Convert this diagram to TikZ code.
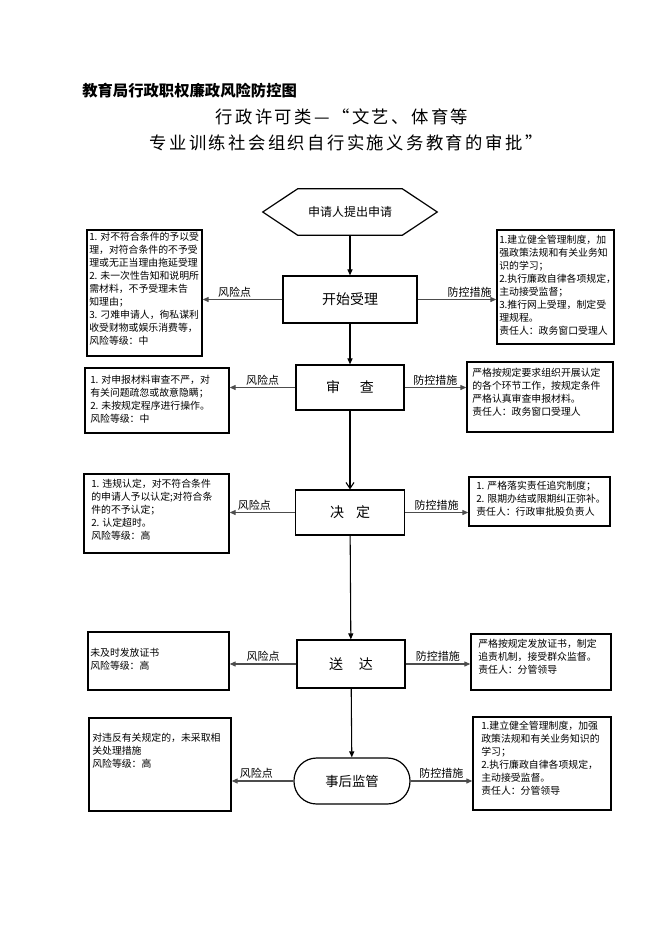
\documentclass[tikz,border=0pt]{standalone}
\usepackage{fontspec}
\setmainfont{Noto Sans CJK SC}
\newfontfamily\subtitlefont{Noto Sans CJK SC}[LetterSpace=14]
\usetikzlibrary{arrows.meta}

\begin{document}
\begin{tikzpicture}[x=0.75pt,y=-0.75pt]
	\tikzstyle{every node}+=[inner sep=0pt]
	\tikzstyle{stepbox}=[draw, line width=0.9pt, font=\fontsize{10.5pt}{12pt}\selectfont]
	\tikzstyle{notebox}=[draw, line width=1pt]
	\tikzstyle{notetext}=[anchor=north west, align=left, font=\fontsize{7.4pt}{9.75pt}\selectfont]
	\tikzstyle{flow}=[line width=0.8pt, -{Triangle[length=4.5pt,width=3.75pt]}]
	\tikzstyle{side}=[flow, black!70]
	\tikzstyle{tag}=[above=1.5pt, text=black, font=\fontsize{8.25pt}{10pt}\selectfont]
	\useasboundingbox (0,0) rectangle (662,936);
	% titles
	\node[anchor=west, font=\fontsize{11.5pt}{13pt}\selectfont\bfseries] (title) at (82,91) {教育局行政职权廉政风险防控图};
	\node[font=\subtitlefont\fontsize{13pt}{15pt}\selectfont] (subtitle1) at (342,117) {行政许可类—“文艺、体育等};
	\node[font=\subtitlefont\fontsize{13pt}{15pt}\selectfont] (subtitle2) at (346,143) {专业训练社会组织自行实施义务教育的审批”};
	% main steps
	\node[minimum width=130.5pt, minimum height=34.5pt, font=\fontsize{9pt}{11pt}\selectfont] (apply) at (350,212) {申请人提出申请};
	\draw[line width=0.9pt] (apply.west) -- ([shift={(35,0)}]apply.north west) -- ([shift={(-35,0)}]apply.north east) -- (apply.east) -- ([shift={(-35,0)}]apply.south east) -- ([shift={(35,0)}]apply.south west) -- cycle;
	\node[stepbox, minimum width=100.5pt, minimum height=35.25pt] (accept) at (350,299.5) {开始受理};
	\node[stepbox, minimum width=81pt, minimum height=33.75pt] (review) at (350,387.5) {审\hspace{15pt}查};
	\node[stepbox, minimum width=81.75pt, minimum height=33.75pt] (decide) at (350,512.5) {决\hspace{9pt}定};
	\node[stepbox, minimum width=81pt, minimum height=36pt] (deliver) at (351,664) {送\hspace{12pt}达};
	\node[stepbox, rounded corners=17pt, minimum width=87pt, minimum height=34.5pt, font=\fontsize{10pt}{12pt}\selectfont] (supervise) at (352,781) {事后监管};
	% risk boxes
	\node[notebox, minimum width=86.25pt, minimum height=94.5pt] (risk1) at (144.5,293) {};
	\node[notetext] (risk1text) at (89,232) {1. 对不符合条件的予以受\\理，对符合条件的不予受\\理或无正当理由拖延受理\\2. 未一次性告知和说明所\\需材料，不予受理未告\\知理由；\\3. 刁难申请人，徇私谋利\\收受财物或娱乐消费等，\\风险等级：中};
	\node[notebox, minimum width=108pt, minimum height=48.75pt] (risk2) at (157,400.5) {};
	\node[notetext] (risk2text) at (90,375) {1. 对申报材料审查不严，对\\有关问题疏忽或故意隐瞒；\\2. 未按规定程序进行操作。\\风险等级：中};
	\node[notebox, minimum width=108.75pt, minimum height=59.25pt] (risk3) at (156.5,513.5) {};
	\node[notetext] (risk3text) at (91,479) {1. 违规认定，对不符合条件\\的申请人予以认定;对符合条\\件的不予认定；\\2. 认定超时。\\风险等级：高};
	\node[notebox, minimum width=105.75pt, minimum height=43.5pt] (risk4) at (158.5,661) {};
	\node[notetext] (risk4text) at (90,648) {未及时发放证书\\风险等级：高};
	\node[notebox, minimum width=106.5pt, minimum height=69.75pt] (risk5) at (160,764.5) {};
	\node[notetext] (risk5text) at (92,733) {对违反有关规定的，未采取相\\关处理措施\\风险等级：高};
	% measure boxes
	\node[notebox, minimum width=87.75pt, minimum height=85.5pt] (measure1) at (555.5,287) {};
	\node[notetext] (measure1text) at (499,235) {1.建立健全管理制度，加\\强政策法规和有关业务知\\识的学习；\\2.执行廉政自律各项规定，\\主动接受监督；\\3.推行网上受理，制定受\\理规程。\\责任人：政务窗口受理人};
	\node[notebox, minimum width=109.5pt, minimum height=52.5pt] (measure2) at (540,397) {};
	\node[notetext] (measure2text) at (472,368) {严格按规定要求组织开展认定\\的各个环节工作，按规定条件\\严格认真审查申报材料。\\责任人：政务窗口受理人};
	\node[notebox, minimum width=105.75pt, minimum height=36.75pt] (measure3) at (539.5,501.5) {};
	\node[notetext] (measure3text) at (476,481) {1. 严格落实责任追究制度；\\2. 限期办结或限期纠正弥补。\\责任人：行政审批股负责人};
	\node[notebox, minimum width=105pt, minimum height=42pt] (measure4) at (541,662) {};
	\node[notetext] (measure4text) at (478,639) {严格按规定发放证书，制定\\追责机制，接受群众监督。\\责任人：分管领导};
	\node[notebox, minimum width=103.5pt, minimum height=69.75pt] (measure5) at (542,763.5) {};
	\node[notetext] (measure5text) at (481,721) {1.建立健全管理制度，加强\\政策法规和有关业务知识的\\学习；\\2.执行廉政自律各项规定，\\主动接受监督。\\责任人：分管领导};
	% flow
	\draw[flow] (apply) -- (accept);
	\draw[flow] (accept) -- (review);
	\draw[line width=0.8pt, -{Straight Barb[length=4.5pt,width=6pt]}] (review) -- (decide);
	\draw[flow] (decide) -- (deliver);
	\draw[flow] (deliver) -- (supervise);
	% risk points and measures
	\draw[side] (accept.west) -- (accept.west -| risk1.east) node[tag, pos=0.6] {风险点};
	\draw[side] (accept.east) -- (accept.east -| measure1.west) node[tag, pos=0.66] {防控措施};
	\draw[side] (review.west) -- (review.west -| risk2.east) node[tag, midway] {风险点};
	\draw[side] (review.east) -- (review.east -| measure2.west) node[tag, midway] {防控措施};
	\draw[side] (decide.west) -- (decide.west -| risk3.east) node[tag, pos=0.62] {风险点};
	\draw[side] (decide.east) -- (decide.east -| measure3.west) node[tag, midway] {防控措施};
	\draw[side] (deliver.west) -- (deliver.west -| risk4.east) node[tag, midway] {风险点};
	\draw[side] (deliver.east) -- (deliver.east -| measure4.west) node[tag, midway] {防控措施};
	\draw[side] (supervise.west) -- (supervise.west -| risk5.east) node[tag, pos=0.6] {风险点};
	\draw[side] (supervise.east) -- (supervise.east -| measure5.west) node[tag, midway] {防控措施};
\end{tikzpicture}
\end{document}
